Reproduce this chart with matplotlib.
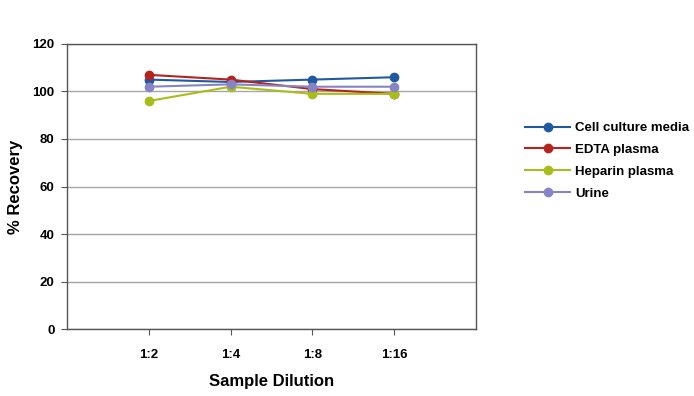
import matplotlib.pyplot as plt

# datos
diluciones = ['1:2', '1:4', '1:8', '1:16']
cell_culture = [105, 104, 105, 106]
edta_plasma = [107, 105, 101, 99]
heparin_plasma = [96, 102, 99, 99]
urine = [102, 103, 102, 102]

series = ['Cell culture media', 'EDTA plasma', 'Heparin plasma', 'Urine']
colores = ['#1f5aa0', '#b5231c', '#a8bd1a', '#8784c6']

plt.rcParams['font.family'] = ['Liberation Sans', 'DejaVu Sans']
plt.rcParams['font.weight'] = 'bold'

fig = plt.figure(figsize=(6.94, 3.96), dpi=100)
ax = fig.add_axes([0.0965, 0.169, 0.5895, 0.72])

x = list(range(1, len(diluciones) + 1))
for nombre, valores, color in zip(series, [cell_culture, edta_plasma, heparin_plasma, urine], colores):
    ax.plot(x, valores, color=color, marker='o', markersize=6, linewidth=1.5, label=nombre)

ax.set_xlim(0, 5)
ax.set_ylim(0, 120)
ax.set_yticks(range(0, 121, 20))
ax.set_xticks(x)
ax.set_xticklabels(diluciones)
ax.yaxis.grid(True, color='#a6a6a6', linewidth=1)
ax.set_axisbelow(True)

for lado in ax.spines.values():
    lado.set_color('#555555')
    lado.set_linewidth(1)
ax.tick_params(axis='both', labelsize=9.5, color='#555555', length=4, direction='out')
ax.tick_params(axis='y', pad=5)
ax.tick_params(axis='x', pad=10)

ax.set_xlabel('Sample Dilution', fontsize=12, fontweight='bold', va='center')
ax.set_ylabel('% Recovery', fontsize=12, fontweight='bold', va='center')
ax.xaxis.set_label_coords(0.5, -0.185)
ax.yaxis.set_label_coords(-0.125, 0.5)

ax.legend(loc='center left', bbox_to_anchor=(1.107, 0.59), frameon=False, fontsize=9.5,
          handlelength=3.4, handletextpad=0.4, labelspacing=0.72, borderaxespad=0)

fig.savefig('out.png', dpi=100)
